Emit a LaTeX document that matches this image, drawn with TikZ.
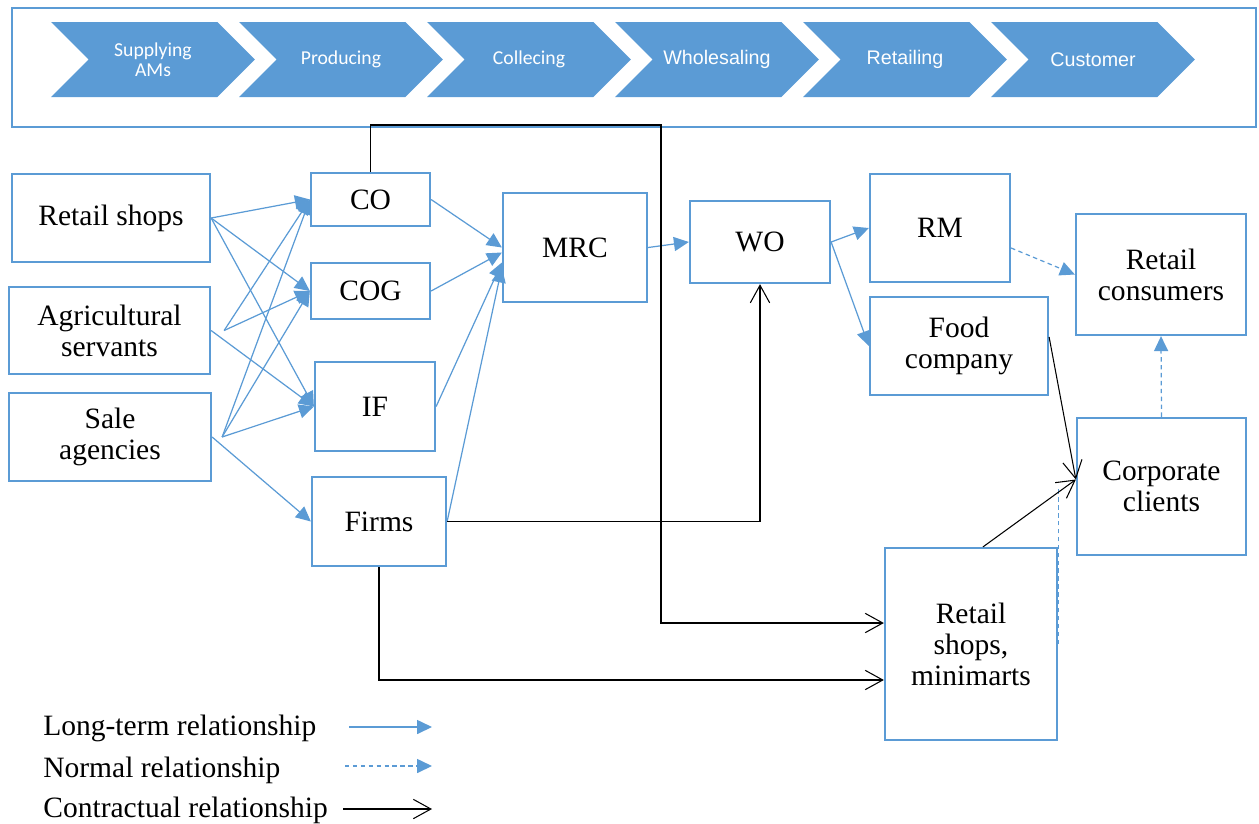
\documentclass[tikz,border=0pt]{standalone}
\usepackage{fontspec}
\usepackage{xcolor}
\setmainfont{Liberation Serif}
\newfontfamily\calibrifont{Carlito}
\newfontfamily\arialfont{Liberation Sans}
\usetikzlibrary{arrows.meta, shapes.symbols}
\definecolor{officeblue}{HTML}{5B9BD5}

\begin{document}
\begin{tikzpicture}[x=0.02cm, y=-0.02cm,
  box/.style={draw=officeblue, line width=1.3pt, align=center, inner sep=0pt, font=\fontsize{16.8}{17.6}\selectfont},
  chev/.style={signal, signal from=west, signal to=east, signal pointer angle=90, fill=officeblue, text=white, minimum width=4.08cm, minimum height=1.5cm, inner sep=0pt, align=center},
  chevcal/.style={chev, font=\calibrifont\fontsize{11.2}{11.6}\selectfont},
  chevarial/.style={chev, font=\arialfont\fontsize{11.2}{11.6}\selectfont},
  legend/.style={anchor=west, inner sep=0pt, font=\fontsize{16.8}{17.6}\selectfont},
  longrel/.style={officeblue, line width=0.7pt, -{Triangle[length=8.5pt, width=8pt]}},
  normalrel/.style={longrel, dash pattern=on 2.5pt off 2pt},
  contractrel/.style={black, line width=0.6pt, -{Straight Barb[length=10pt, width=11pt]}}
]
\useasboundingbox (0,0) rectangle (1259,823);

% Define the banner
\draw[officeblue, line width=1.3pt] (12,8) rectangle (1256,127);
\node[chevcal] (supplying) at (153,59.5) {Supplying\\AMs};
\node[chevcal] (producing) at (341,59.5) {Producing};
\node[chevcal] (collecing) at (529,59.5) {Collecing};
\node[chevarial] (wholesaling) at (717,59.5) {Wholesaling};
\node[chevarial] (retailing) at (905,59.5) {Retailing};
\node[chevarial] (customer) at (1093,59.5) {Customer};

% Define the boxes
\node[box, minimum width=3.96cm, minimum height=1.76cm] (retail) at (111,218) {Retail shops};
\node[box, minimum width=4.02cm, minimum height=1.74cm] (agri) at (109.5,330.5) {Agricultural\\servants};
\node[box, minimum width=4.04cm, minimum height=1.76cm] (sale) at (110,437) {Sale\\agencies};
\node[box, minimum width=2.38cm, minimum height=1.06cm] (co) at (370.5,199.5) {CO};
\node[box, minimum width=2.38cm, minimum height=1.12cm] (cog) at (370.5,291) {COG};
\node[box, minimum width=2.4cm, minimum height=1.78cm] (if) at (375,406.5) {IF};
\node[box, minimum width=2.68cm, minimum height=1.78cm] (firms) at (379,521.5) {Firms};
\node[box, minimum width=2.88cm, minimum height=2.18cm] (mrc) at (575,247.5) {MRC};
\node[box, minimum width=2.8cm, minimum height=1.64cm] (wo) at (760,242) {WO};
\node[box, minimum width=2.8cm, minimum height=2.16cm] (rm) at (940,228) {RM};
\node[box, minimum width=3.56cm, minimum height=1.96cm] (food) at (959,346) {Food\\company};
\node[box, minimum width=3.4cm, minimum height=2.42cm] (cons) at (1161,274.5) {Retail\\consumers};
\node[box, minimum width=3.38cm, minimum height=2.74cm] (corp) at (1161.5,486.5) {Corporate\\clients};
\node[box, minimum width=3.44cm, minimum height=3.84cm] (mini) at (971,644) {Retail\\shops,\\minimarts};

% Long-term relationships
\draw[longrel] (retail.east) -- (co.west);
\draw[longrel] (retail.east) -- (cog.west);
\draw[longrel] (retail.east) -- (if.west);
\draw[longrel] ([xshift=0.26cm]agri.east) -- (co.west);
\draw[longrel] ([xshift=0.26cm]agri.east) -- (cog.west);
\draw[longrel] (agri.east) -- (if.west);
\draw[longrel] ([xshift=0.2cm]sale.east) -- (co.west);
\draw[longrel] ([xshift=0.2cm]sale.east) -- (cog.west);
\draw[longrel] ([xshift=0.2cm]sale.east) -- (if.west);
\draw[longrel] (sale.east) -- (firms.west);
\draw[longrel] (co.east) -- (mrc.west);
\draw[longrel] (cog.east) -- ([yshift=-0.1cm]mrc.west);
\draw[longrel] (if.east) -- ([yshift=-0.3cm]mrc.west);
\draw[longrel] (firms.east) -- ([yshift=-0.4cm]mrc.west);
\draw[longrel] (mrc.east) -- (wo.west);
\draw[longrel] (wo.east) -- (rm.west);
\draw[longrel] (wo.east) -- (food.west);

% Normal relationships
\draw[normalrel] ([yshift=-0.4cm]rm.east) -- (cons.west);
\draw[normalrel] (corp.north) -- (cons.south);
\draw[normalrel, -] (mini.east) -- (mini.east |- corp.west);

% Contractual relationships
\coordinate (bend) at (661,125);
\draw[contractrel] (co.north) |- (bend) |- ([yshift=0.42cm]mini.west);
\draw[contractrel] (firms.east) -| (wo.south);
\draw[contractrel] (firms.south) |- ([yshift=-0.72cm]mini.west);
\draw[contractrel] ([yshift=0.18cm]food.east) -- ([yshift=0.14cm]corp.west);
\draw[contractrel] ([xshift=0.24cm]mini.north) -- ([yshift=0.14cm]corp.west);

% Legend
\node[legend] (lglong) at (43,728) {Long-term relationship};
\node[legend] (lgnormal) at (43,770) {Normal relationship};
\node[legend] (lgcontract) at (43,810) {Contractual relationship};
\coordinate (longa) at (349,727);
\coordinate (longb) at (432,727);
\coordinate (normala) at (345,766);
\coordinate (normalb) at (432,766);
\coordinate (contracta) at (343,809);
\coordinate (contractb) at (432,809);
\draw[longrel] (longa) -- (longb);
\draw[normalrel] (normala) -- (normalb);
\draw[contractrel] (contracta) -- (contractb);

\end{tikzpicture}
\end{document}
